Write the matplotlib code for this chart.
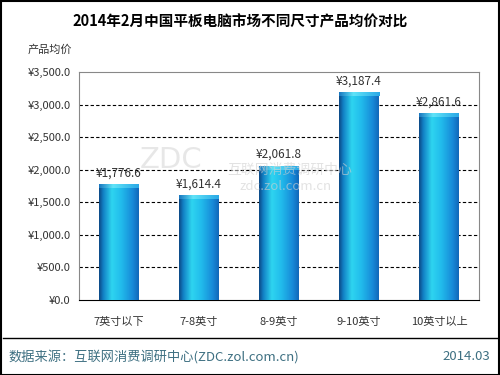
import matplotlib
matplotlib.use("Agg")
import matplotlib.pyplot as plt
import numpy as np
from matplotlib.colors import LinearSegmentedColormap
from matplotlib.patches import Rectangle

plt.rcParams['font.family'] = ['Noto Sans CJK SC', 'DejaVu Sans']

title = '2014年2月中国平板电脑市场不同尺寸产品均价对比'
categories = ['7英寸以下', '7-8英寸', '8-9英寸', '9-10英寸', '10英寸以上']
prices = [1776.6, 1614.4, 2061.8, 3187.4, 2861.6]
yticks = [0, 500, 1000, 1500, 2000, 2500, 3000, 3500]

fig = plt.figure(figsize=(5, 3.75), dpi=100)
ax = fig.add_axes([0.158, 0.2, 0.8, 0.608])

x = np.arange(len(categories))
bars = ax.bar(x, prices, 0.5, color='#1a9ad8', zorder=2)

# cylinder-like horizontal gradient on each bar
cmap = LinearSegmentedColormap.from_list(
    'cyl', [(0, '#0c4a88'), (0.1, '#1280c4'), (0.32, '#2ed4f0'),
            (0.55, '#22bdec'), (0.85, '#178ad8'), (1, '#1268ba')])
grad = np.linspace(0, 1, 64).reshape(1, -1)
cap = LinearSegmentedColormap.from_list(
    'cap', [(0, '#1a78c0'), (0.35, '#60e4f8'), (1, '#2aa8e6')])
for b in bars:
    x0, w, h = b.get_x(), b.get_width(), b.get_height()
    im = ax.imshow(grad, cmap=cmap, aspect='auto', extent=[x0, x0 + w, 0, h],
                   zorder=3)
    im.set_clip_path(b)
    ax.imshow(grad, cmap=cap, aspect='auto', extent=[x0, x0 + w, h - 60, h],
              zorder=4)
    ax.text(b.get_x() + w / 2, h + 70, '¥{:,.1f}'.format(h), ha='center',
            va='bottom', fontsize=8.5, color='#333333', zorder=5)

ax.set_xlim(-0.5, len(categories) - 0.5)
ax.set_ylim(0, 3500)
ax.set_yticks(yticks)
ax.set_yticklabels(['¥{:,.1f}'.format(v) for v in yticks], fontsize=8,
                   color='#333333')
ax.set_xticks(x)
ax.set_xticklabels(categories, fontsize=8, color='#333333')
ax.tick_params(length=0, pad=6)
ax.tick_params(axis='x', pad=12)
for v in yticks[1:-1]:
    ax.axhline(v, color='black', lw=0.8, ls=(0, (3, 2)), zorder=1)
for s in ['left', 'right', 'top']:
    ax.spines[s].set_color('#888888')
ax.spines['bottom'].set_color('black')

# watermark
fig.text(0.28, 1 - 160 / 375, 'ZDC', fontsize=21, color='#d8d8d8', alpha=0.6,
         family='DejaVu Sans', va='center', zorder=10)
fig.text(0.455, 1 - 170 / 375, '互联网消费调研中心', fontsize=10,
         color='#d0d0d0', alpha=0.6, va='center', zorder=10)
fig.text(0.48, 1 - 186 / 375, 'zdc.zol.com.cn', fontsize=9.5,
         color='#d0d0d0', alpha=0.6, va='center', zorder=10)

fig.text(0.48, 0.942, title, ha='center', va='center', fontsize=10.5,
         fontweight='bold', color='black')
fig.text(0.055, 0.868, '产品均价', ha='left', va='center', fontsize=8,
         color='#333333')

fig.add_artist(plt.Line2D([0.006, 0.994], [1 - 338 / 375] * 2,
                          color='black', lw=1))
fig.text(0.016, 1 - 357 / 375, '数据来源：互联网消费调研中心(ZDC.zol.com.cn)',
         ha='left', va='center', fontsize=9.5, color='#3e7082')
fig.text(0.98, 1 - 357 / 375, '2014.03', ha='right', va='center',
         fontsize=9.5, color='#3e7082')
fig.add_artist(Rectangle((0.001, 0.001), 0.997, 0.997, fill=False,
                         edgecolor='black', lw=1.5, transform=fig.transFigure))

fig.savefig('out.png', dpi=100)
